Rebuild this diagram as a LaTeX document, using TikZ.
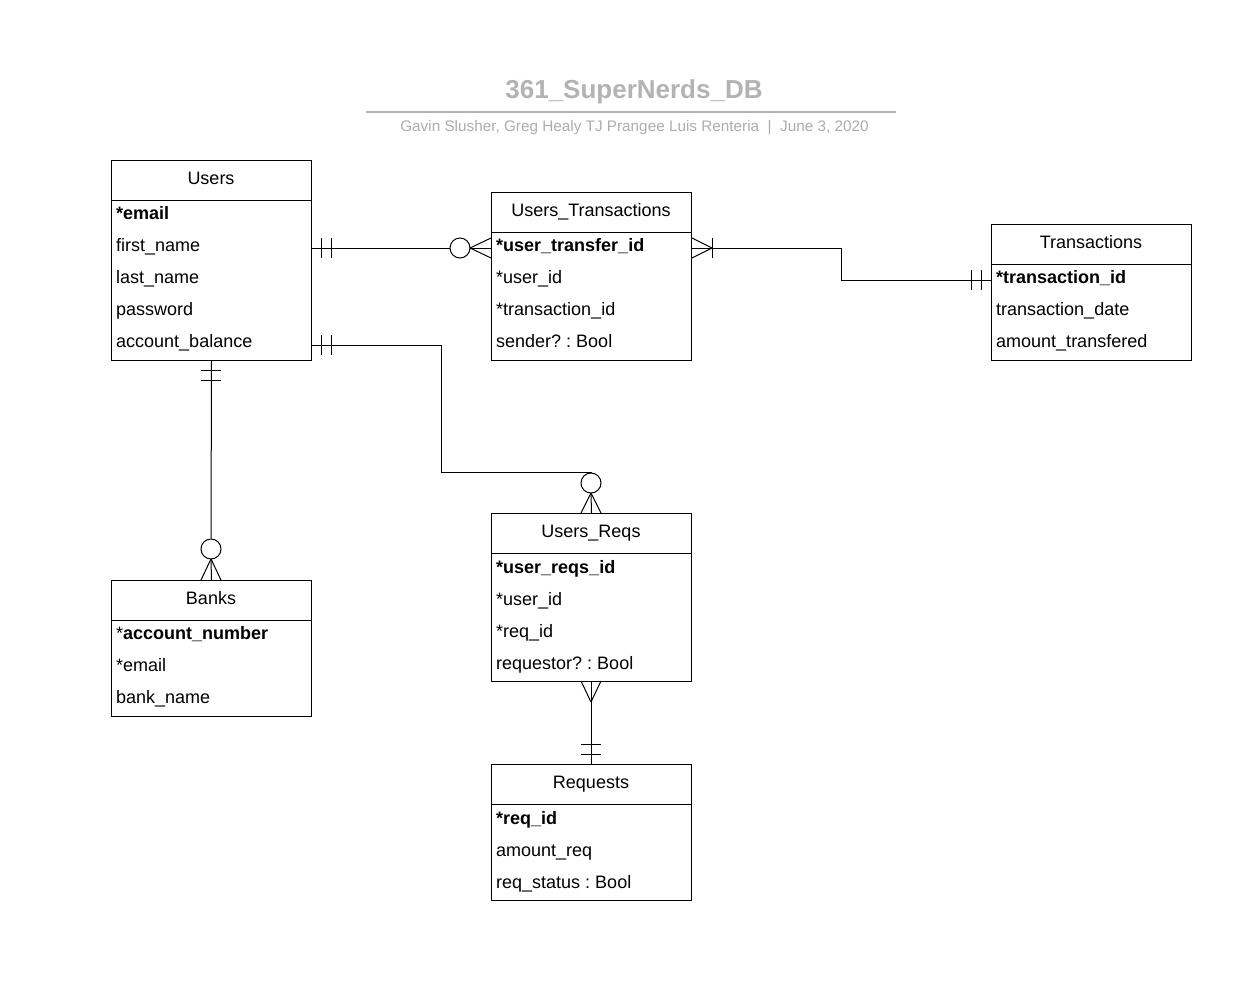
\documentclass[tikz,border=0pt]{standalone}
\usepackage{fontspec}
\setmainfont{Liberation Sans}
\definecolor{tgray}{HTML}{B3B3B3}
\definecolor{sgray}{HTML}{ADADAD}
\frenchspacing
\begin{document}
\begin{tikzpicture}[x=1pt,y=-1pt,
  tbl/.style={draw=black, line width=1pt, minimum width=200pt, inner sep=0pt, anchor=north west},
  ttl/.style={anchor=base, inner sep=0pt, font=\fontsize{18}{22}\selectfont},
  fld/.style={anchor=base west, inner sep=0pt, font=\fontsize{18}{22}\selectfont},
  key/.style={anchor=base west, inner sep=0pt, font=\fontsize{18}{22}\selectfont\bfseries},
  rel/.style={draw=black, line width=1pt},
  zc/.style={draw=black, fill=white, line width=1pt, circle, minimum size=20pt, inner sep=0pt}
]
\useasboundingbox (0,0) rectangle (1245,997);
\fill[white] (0,0) rectangle (1245,997);

% title block
\node[anchor=base, inner sep=0pt, text=tgray, font=\fontsize{26}{30}\selectfont\bfseries] (title) at (634,98) {361\_SuperNerds\_DB};
\coordinate (rl) at (366,111.5);
\coordinate (rr) at (896,111.5);
\draw[draw=tgray, line width=2pt] (rl) -- (rr);
\node[anchor=base, inner sep=0pt, text=sgray, font=\fontsize{15.3}{18}\selectfont] (sub) at (634.5,131) {Gavin Slusher, Greg Healy TJ Prangee Luis Renteria\ \ |\ \ June 3, 2020};

% Users
\node[tbl, minimum height=40pt] (usersH) at (111,160) {};
\node[tbl, minimum height=160pt] (users) at (111,200) {};
\node[ttl] (usersT) at (211,184) {Users};
\node[key] (u1) at (116,219) {*email};
\node[fld] (u2) at (116,251) {first\_name};
\node[fld] (u3) at (116,283) {last\_name};
\node[fld] (u4) at (116,315) {password};
\node[fld] (u5) at (116,347) {account\_balance};

% Users_Transactions
\node[tbl, minimum height=40pt] (utH) at (491,192) {};
\node[tbl, minimum height=128pt] (ut) at (491,232) {};
\node[ttl] (utT) at (591,216) {Users\_Transactions};
\node[key] (ut1) at (496,251) {*user\_transfer\_id};
\node[fld] (ut2) at (496,283) {*user\_id};
\node[fld] (ut3) at (496,315) {*transaction\_id};
\node[fld] (ut4) at (496,347) {sender? : Bool};

% Transactions
\node[tbl, minimum height=40pt] (trH) at (991,224) {};
\node[tbl, minimum height=96pt] (tr) at (991,264) {};
\node[ttl] (trT) at (1091,248) {Transactions};
\node[key] (tr1) at (996,283) {*transaction\_id};
\node[fld] (tr2) at (996,315) {transaction\_date};
\node[fld] (tr3) at (996,347) {amount\_transfered};

% Banks
\node[tbl, minimum height=40pt] (bkH) at (111,580) {};
\node[tbl, minimum height=96pt] (bk) at (111,620) {};
\node[ttl] (bkT) at (211,604) {Banks};
\node[fld] (bk1) at (116,639) {*\textbf{account\_number}};
\node[fld] (bk2) at (116,671) {*email};
\node[fld] (bk3) at (116,703) {bank\_name};

% Users_Reqs
\node[tbl, minimum height=40pt] (urH) at (491,513) {};
\node[tbl, minimum height=128pt] (ur) at (491,553) {};
\node[ttl] (urT) at (591,537) {Users\_Reqs};
\node[key] (ur1) at (496,573) {*user\_reqs\_id};
\node[fld] (ur2) at (496,605) {*user\_id};
\node[fld] (ur3) at (496,637) {*req\_id};
\node[fld] (ur4) at (496,669) {requestor? : Bool};

% Requests
\node[tbl, minimum height=40pt] (rqH) at (491,764) {};
\node[tbl, minimum height=96pt] (rq) at (491,804) {};
\node[ttl] (rqT) at (591,788) {Requests};
\node[key] (rq1) at (496,824) {*req\_id};
\node[fld] (rq2) at (496,856) {amount\_req};
\node[fld] (rq3) at (496,888) {req\_status : Bool};

% ---- Users -- Users_Transactions (one-and-only-one to zero-or-many)
\node[zc] (c1) at (460,248) {};
\draw[rel] (users.east |- 0,248) -- (c1.west);
\draw[rel] (c1.east) -- (utH.west |- 0,248);
\draw[rel] (321,238) -- (321,258) (331,238) -- (331,258);
\draw[rel] (470,248) -- (ut.west |- 0,238) (470,248) -- (ut.west |- 0,258);

% ---- Users_Transactions -- Transactions (one-or-many to one)
\draw[rel] (ut.east |- 0,248) -- (841,248) -- (841,280) -- (tr.west |- 0,280);
\draw[rel] (712,238) -- (712,258);
\draw[rel] (712,248) -- (ut.east |- 0,238) (712,248) -- (ut.east |- 0,258);
\draw[rel] (971,270) -- (971,290) (981,270) -- (981,290);

% ---- Users -- Users_Reqs (one to zero-or-many)
\node[zc] (c2) at (591,483) {};
\draw[rel] (users.east |- 0,345) -- (441,345) -- (441,472) -- (591,472) -- (c2.north);
\draw[rel] (c2.south) -- (urH.north);
\draw[rel] (591,493) -- (581,513) (591,493) -- (601,513);
\draw[rel] (321,335) -- (321,355) (331,335) -- (331,355);

% ---- Users -- Banks (one to zero-or-many)
\node[zc] (c3) at (211,549) {};
\draw[rel] (users.south) -- (c3.north);
\draw[rel] (c3.south) -- (bkH.north);
\draw[rel] (211,559) -- (201,580) (211,559) -- (221,580);
\draw[rel] (201,370) -- (221,370) (201,380) -- (221,380);

% ---- Users_Reqs -- Requests (many to one)
\draw[rel] (ur.south) -- (rqH.north);
\draw[rel] (591,702) -- (581,681) (591,702) -- (601,681);
\draw[rel] (581,744) -- (601,744) (581,754) -- (601,754);
\end{tikzpicture}
\end{document}
